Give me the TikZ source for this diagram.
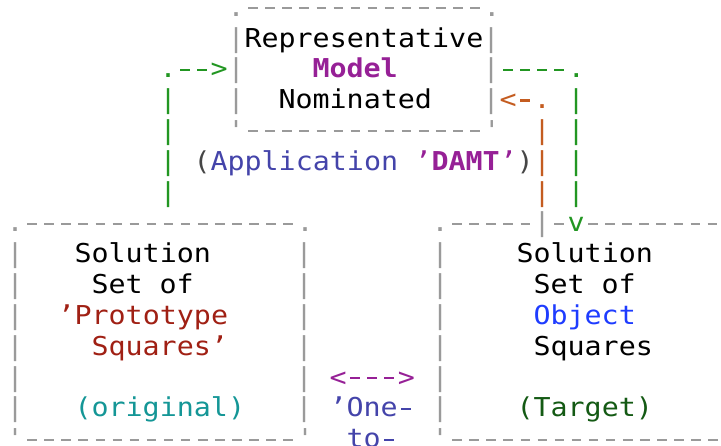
\documentclass[tikz,border=0pt]{standalone}
\usepackage{fontspec}
\usepackage{xcolor}
% monospaced face for the character drawing; TeX ligatures off so quotes stay straight
\newfontfamily\asciifont[FakeStretch=1.09,Ligatures=TeXOff]{DejaVu Sans Mono}

\definecolor{framegrey}{RGB}{154,154,154}
\definecolor{loopgreen}{RGB}{34,150,34}
\definecolor{backorange}{RGB}{196,92,32}
\definecolor{keypurple}{RGB}{150,32,150}
\definecolor{noteblue}{RGB}{68,68,170}
\definecolor{parengrey}{RGB}{70,70,70}
\definecolor{protored}{RGB}{160,32,20}
\definecolor{origteal}{RGB}{20,150,150}
\definecolor{objblue}{RGB}{30,60,255}
\definecolor{targetgreen}{RGB}{20,90,20}

% one dash filling a character cell, a bit longer than the font's hyphen
\newlength\cellw
\newcommand\celldash{\settowidth\cellw{0}\makebox[\cellw][c]{\rule[7pt]{9.6pt}{2.2pt}}}
\newcommand\dashes[1]{\foreach\k in {1,...,#1}{\celldash}}

\tikzset{
  glyphs/.style={inner sep=0pt, outer sep=0pt, anchor=base west,
    font=\asciifont\fontsize{26}{30}\selectfont},
  frame/.style={glyphs, text=framegrey},
  plain/.style={glyphs, text=black},
  go/.style={glyphs, text=loopgreen},
  ret/.style={glyphs, text=backorange},
  keyword/.style={glyphs, text=keypurple},
  note/.style={glyphs, text=noteblue},
  paren/.style={glyphs, text=parengrey},
  proto/.style={glyphs, text=protored},
  orig/.style={glyphs, text=origteal},
  obj/.style={glyphs, text=objblue},
  target/.style={glyphs, text=targetgreen},
}

% \cellat{name}{column}{row}{style}{text}
\newcommand\cellat[5]{\node[#4] (#1) at ({6.5+17*#2},{16.17+30.83*#3}) {#5};}

\begin{document}
\begin{tikzpicture}[x=1pt,y=-1pt]
\useasboundingbox (0,0) rectangle (721,445);

% representative model box
\cellat{mtop}{13}{0}{frame}{.\dashes{14}.}
\cellat{ml1}{13}{1}{frame}{|}
\cellat{mtxta}{14}{1}{plain}{Representative}
\cellat{mr1}{28}{1}{frame}{|}
\cellat{ml2}{13}{2}{frame}{|}
\cellat{mtxtb}{18}{2}{keyword}{\bfseries Model}
\cellat{mr2}{28}{2}{frame}{|}
\cellat{ml3}{13}{3}{frame}{|}
\cellat{mtxtc}{16}{3}{plain}{Nominated}
\cellat{mr3}{28}{3}{frame}{|}
\cellat{mbot}{13}{4}{frame}{'\dashes{14}'}

% green loop: prototype set up into the model, model down into the target set
\cellat{feedin}{9}{2}{go}{.\celldash\celldash>}
\cellat{feedout}{29}{2}{go}{\dashes{4}.}
\foreach \r in {3,...,6}{\cellat{gl\r}{9}{\r}{go}{|}}
\foreach \r in {3,...,6}{\cellat{gr\r}{33}{\r}{go}{|}}
\cellat{arrowv}{33}{7}{go}{v}

% orange return path from the target set
\cellat{back}{29}{3}{ret}{<\celldash.}
\foreach \r in {4,5,6}{\cellat{or\r}{31}{\r}{ret}{|}}

% application label
\cellat{appo}{11}{5}{paren}{(}
\cellat{appname}{12}{5}{note}{Application}
\cellat{damt}{24}{5}{keyword}{’\textbf{DAMT}’}
\cellat{appc}{30}{5}{paren}{)}

% prototype (original) box
\cellat{ptop}{0}{7}{frame}{.\dashes{16}.}
\foreach \r in {8,...,13}{\cellat{pl\r}{0}{\r}{frame}{|}\cellat{pr\r}{17}{\r}{frame}{|}}
\cellat{pbot}{0}{14}{frame}{'\dashes{16}'}
\cellat{ptxta}{4}{8}{plain}{Solution}
\cellat{ptxtb}{5}{9}{plain}{Set}
\cellat{ptxtc}{9}{9}{plain}{of}
\cellat{ptxtd}{3}{10}{proto}{’Prototype}
\cellat{ptxte}{5}{11}{proto}{Squares’}
\cellat{ptxtf}{4}{13}{orig}{(original)}

% object (target) box
\cellat{otopa}{25}{7}{frame}{.\dashes{5}}
\cellat{ojoin}{31}{7}{frame}{|}
\cellat{otopb}{32}{7}{frame}{\celldash}
\cellat{otopc}{34}{7}{frame}{\dashes{8}}
\foreach \r in {8,...,13}{\cellat{ol\r}{25}{\r}{frame}{|}}
\cellat{obot}{25}{14}{frame}{'\dashes{16}}
\cellat{otxta}{30}{8}{plain}{Solution}
\cellat{otxtb}{31}{9}{plain}{Set}
\cellat{otxtc}{35}{9}{plain}{of}
\cellat{otxtd}{31}{10}{obj}{Object}
\cellat{otxte}{31}{11}{plain}{Squares}
\cellat{otxtf}{30}{13}{target}{(Target)}

% one-to-one correspondence between the sets
\cellat{corr}{19}{12}{keyword}{<\dashes{3}>}
\cellat{corra}{19}{13}{note}{’One\celldash}
\cellat{corrb}{20}{14}{note}{to\celldash}
\end{tikzpicture}
\end{document}
